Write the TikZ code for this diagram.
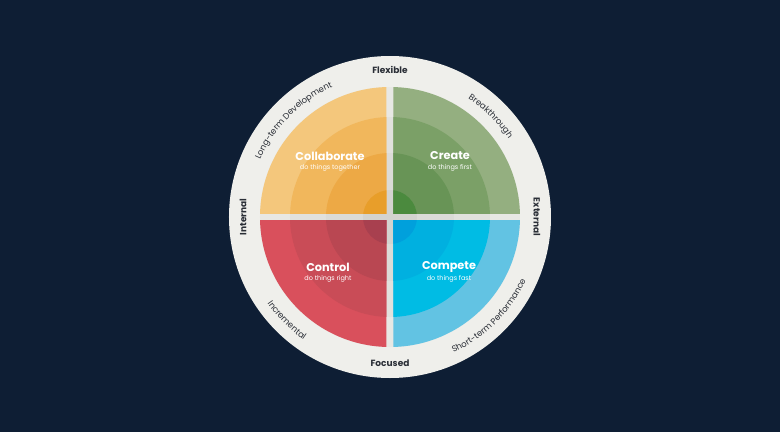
\documentclass[tikz,border=0pt]{standalone}
\usepackage{fontspec}
\setmainfont{Poppins}
\usetikzlibrary{decorations.text}
\definecolor{bg}{HTML}{0E1E34}
\definecolor{ringc}{HTML}{EFEFEB}
\definecolor{gapa}{HTML}{E8E8E4}
\definecolor{gapb}{HTML}{E1E1DD}
\definecolor{gapc}{HTML}{DBDBD7}
\definecolor{gapd}{HTML}{D3D3CF}
\definecolor{txt}{HTML}{2A2E36}
\definecolor{or4}{HTML}{F4C77C}
\definecolor{or3}{HTML}{F1B75C}
\definecolor{or2}{HTML}{EDA945}
\definecolor{or1}{HTML}{E89E2A}
\definecolor{gr4}{HTML}{94AF80}
\definecolor{gr3}{HTML}{7BA067}
\definecolor{gr2}{HTML}{689456}
\definecolor{gr1}{HTML}{4B8A3E}
\definecolor{rd4}{HTML}{D9505C}
\definecolor{rd3}{HTML}{C94C57}
\definecolor{rd2}{HTML}{B94752}
\definecolor{rd1}{HTML}{A8404F}
\definecolor{bl4}{HTML}{62C3E3}
\definecolor{bl3}{HTML}{00BCE4}
\definecolor{bl2}{HTML}{00B0E0}
\definecolor{bl1}{HTML}{00A0DC}
\tikzset{
  title/.style={text=white, font=\fontsize{11.3}{13}\selectfont\bfseries, inner sep=0pt},
  subtitle/.style={text=white, font=\fontsize{6.5}{8}\selectfont, inner sep=0pt},
  axis/.style={text=txt, font=\fontsize{9}{10}\selectfont\bfseries, inner sep=0pt},
}
\begin{document}
\begin{tikzpicture}[x=1pt,y=1pt]
\useasboundingbox[fill=bg] (-390,-215) rectangle (390,217);
\fill[ringc] (0,0) circle (161);
\fill[gapa] (0,0) circle (130);
\fill[gapb] (0,0) circle (100);
\fill[gapc] (0,0) circle (64);
\fill[gapd] (0,0) circle (27);
\foreach \sx/\sy/\c in {-1/1/or, 1/1/gr, -1/-1/rd, 1/-1/bl} {
  \begin{scope}
    \clip (\sx*3.5,\sy*3.5) rectangle (\sx*140,\sy*140);
    \fill[\c4] (0,0) circle (130);
    \fill[\c3] (0,0) circle (100);
    \fill[\c2] (0,0) circle (64);
    \fill[\c1] (0,0) circle (27);
  \end{scope}
}
\node[title] (collab) at (-60,61) {Collaborate};
\node[subtitle] (collabs) at (-60,49.5) {do things together};
\node[title] (create) at (60,61) {Create};
\node[subtitle] (creates) at (60,49.5) {do things first};
\node[title] (control) at (-62,-50) {Control};
\node[subtitle] (controls) at (-62,-61.5) {do things right};
\node[title] (compete) at (59,-50) {Compete};
\node[subtitle] (competes) at (59,-61.5) {do things fast};

\node[axis] (flex) at (0,147) {Flexible};
\node[axis] (foc) at (0,-146) {Focused};
\node[axis, rotate=90] (int) at (-147,0) {Internal};
\node[axis, rotate=-90] (ext) at (147,0) {External};

\path[decorate, decoration={text along path, text align=center,
  text={|\fontsize{8.5}{10}\selectfont\color{txt}|Long-term Development}}]
  (175:142) arc[start angle=175, end angle=95, radius=142];
\path[decorate, decoration={text along path, text align=center,
  text={|\fontsize{8.5}{10}\selectfont\color{txt}|Breakthrough}}]
  (85:142) arc[start angle=85, end angle=5, radius=142];
\path[decorate, decoration={text along path, text align=center,
  text={|\fontsize{8.5}{10}\selectfont\color{txt}|Incremental}}]
  (185:150) arc[start angle=185, end angle=265, radius=150];
\path[decorate, decoration={text along path, text align=center,
  text={|\fontsize{8.5}{10}\selectfont\color{txt}|Short-term Performance}}]
  (-85:150) arc[start angle=-85, end angle=-5, radius=150];
\end{tikzpicture}
\end{document}
